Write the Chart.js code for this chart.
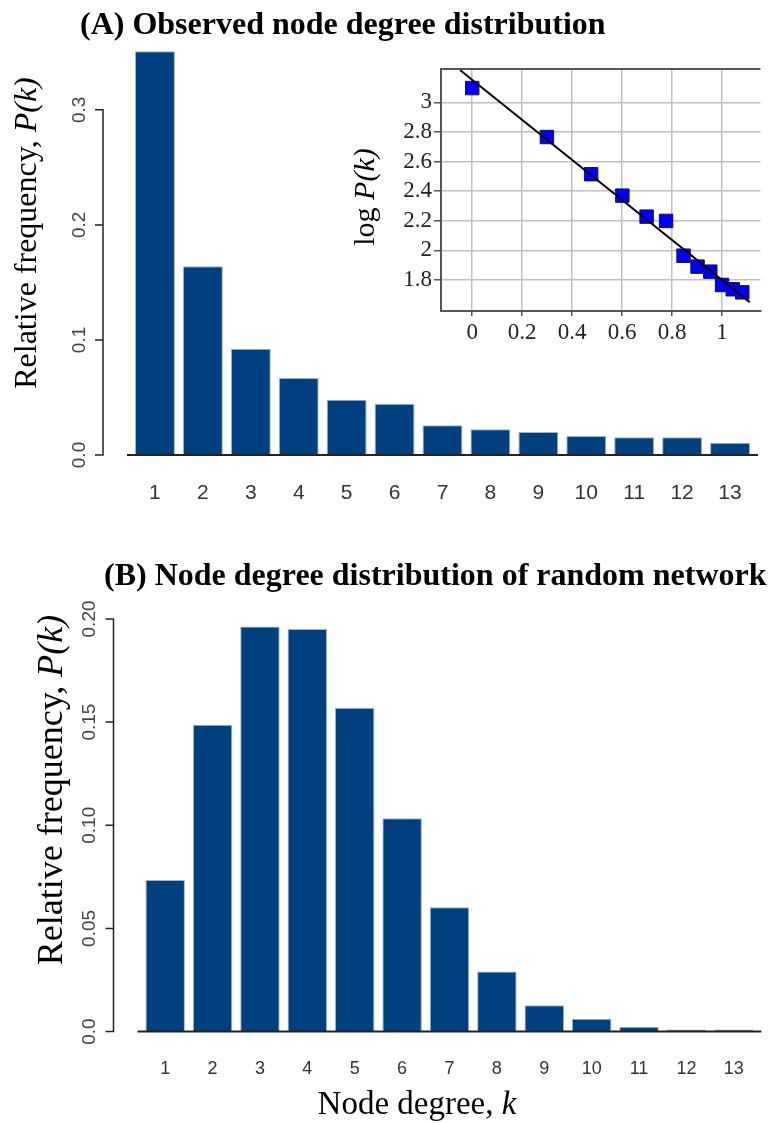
<!DOCTYPE html>
<html>
<head>
<meta charset="utf-8">
<script src="https://cdn.jsdelivr.net/npm/chart.js@4.4.1/dist/chart.umd.min.js"></script>
<style>
  html, body { margin: 0; padding: 0; background: #fff; }
  #page { position: relative; width: 771px; height: 1123px; overflow: hidden; }
  canvas { position: absolute; }
  #chartA { left: 0; top: 0; }
  #chartInset { left: 350px; top: 50px; }
  #chartB { left: 0; top: 520px; }
</style>
</head>
<body>
<div id="page">
  <canvas id="chartA" width="771" height="520"></canvas>
  <canvas id="chartInset" width="421" height="300"></canvas>
  <canvas id="chartB" width="771" height="603"></canvas>
</div>
<script>
// node degrees k
const degrees = ['1', '2', '3', '4', '5', '6', '7', '8', '9', '10', '11', '12', '13'];

// (A) observed relative frequency P(k)
const observedFreq = [0.351, 0.164, 0.0924, 0.067, 0.0481, 0.0446, 0.0258, 0.0223, 0.020, 0.0165, 0.0154, 0.0154, 0.0107];

// (B) random network relative frequency P(k)
const randomFreq = [0.0735, 0.1487, 0.1963, 0.1951, 0.157, 0.1034, 0.0603, 0.0291, 0.0128, 0.0062, 0.0023, 0.001, 0.001];

// inset: log k vs log P(k), and the fitted line
const logK = [0, 0.299, 0.476, 0.601, 0.698, 0.776, 0.846, 0.902, 0.953, 1.0, 1.043, 1.081];
const logP = [3.097, 2.766, 2.515, 2.370, 2.228, 2.199, 1.964, 1.890, 1.856, 1.766, 1.737, 1.716];
const fitX = [-0.048, 1.111];
const fitY = [3.217, 1.649];

// tick values / labels
const aYTicks = [0, 0.1, 0.2, 0.3];
const aYLabels = ['0.0', '0.1', '0.2', '0.3'];
const bYTicks = [0, 0.05, 0.10, 0.15, 0.20];
const bYLabels = ['0.0', '0.05', '0.10', '0.15', '0.20'];
const insetXTicks = [0, 0.2, 0.4, 0.6, 0.8, 1];
const insetXLabels = ['0', '0.2', '0.4', '0.6', '0.8', '1'];
const insetYTicks = [1.8, 2, 2.2, 2.4, 2.6, 2.8, 3];
const insetYLabels = ['1.8', '2', '2.2', '2.4', '2.6', '2.8', '3'];

const BAR_COLOR = '#00407f';
const SERIF = '"Liberation Serif", "Times New Roman", serif';
const SANS = '"Liberation Sans", Arial, sans-serif';

// draw "regular" + "italic" text run, rotated or not, centered at (cx, cy)
function mixedText(ctx, parts, cx, cy, rotate) {
  let total = 0;
  parts.forEach(p => { ctx.font = p.font; p.w = ctx.measureText(p.text).width; total += p.w; });
  ctx.save();
  ctx.translate(cx, cy);
  if (rotate) ctx.rotate(-Math.PI / 2);
  ctx.textBaseline = 'middle';
  ctx.textAlign = 'left';
  ctx.fillStyle = '#000';
  let x = -total / 2;
  parts.forEach(p => { ctx.font = p.font; ctx.fillText(p.text, x, 0); x += p.w; });
  ctx.restore();
}

// R-style axis: y axis line only over tick range, rotated labels, baseline under bars, titles
function rAxisPlugin(o) {
  return {
    id: 'rAxis',
    afterDraw(chart) {
      const ctx = chart.ctx;
      const xs = chart.scales.x, ys = chart.scales.y, area = chart.chartArea;
      const axisX = area.left - 28;
      ctx.save();
      ctx.strokeStyle = '#222';
      ctx.lineWidth = 1.5;
      ctx.beginPath();
      ctx.moveTo(axisX, ys.getPixelForValue(o.ticks[0]));
      ctx.lineTo(axisX, ys.getPixelForValue(o.ticks[o.ticks.length - 1]));
      o.ticks.forEach(v => {
        const py = ys.getPixelForValue(v);
        ctx.moveTo(axisX + 0.75, py);
        ctx.lineTo(axisX - 8, py);
      });
      ctx.stroke();

      ctx.fillStyle = '#444';
      ctx.font = o.tickFont;
      ctx.textAlign = 'center';
      ctx.textBaseline = 'middle';
      o.ticks.forEach((v, i) => {
        ctx.save();
        ctx.translate(axisX - o.labelGap, ys.getPixelForValue(v));
        ctx.rotate(-Math.PI / 2);
        ctx.fillText(o.labels[i], 0, 0);
        ctx.restore();
      });

      // baseline spanning the bar region
      const step = xs.getPixelForValue(1) - xs.getPixelForValue(0);
      const x0 = xs.getPixelForValue(0) - step * 0.583;
      const x1 = xs.getPixelForValue(xs.max) + step * 0.583;
      const by = ys.getPixelForValue(0);
      ctx.strokeStyle = '#222';
      ctx.lineWidth = 2;
      ctx.beginPath();
      ctx.moveTo(x0, by);
      ctx.lineTo(x1, by);
      ctx.stroke();

      // panel title
      ctx.fillStyle = '#000';
      ctx.font = 'bold 32px ' + SERIF;
      ctx.textAlign = 'left';
      ctx.textBaseline = 'alphabetic';
      ctx.fillText(o.title, o.titleX, o.titleY);

      // y axis title
      mixedText(ctx, [
        { text: 'Relative frequency, ', font: o.yTitleSize + 'px ' + SERIF },
        { text: 'P(k)', font: 'italic ' + o.yTitleSize + 'px ' + SERIF }
      ], o.yTitleX, o.yTitleY, true);

      // x axis title
      if (o.xTitle) {
        mixedText(ctx, [
          { text: 'Node degree, ', font: '33px ' + SERIF },
          { text: 'k', font: 'italic 33px ' + SERIF }
        ], o.xTitleX, o.xTitleY, false);
      }
      ctx.restore();
    }
  };
}

function barConfig(values, yMax, pad, xHeight, tickSize, tickPad, axisOpts) {
  return {
    type: 'bar',
    data: {
      labels: degrees,
      datasets: [{
        data: values,
        backgroundColor: BAR_COLOR,
        borderColor: '#9db4d2',
        borderWidth: 1,
        borderSkipped: 'bottom',
        barPercentage: 0.833,
        categoryPercentage: 1
      }]
    },
    options: {
      responsive: false,
      animation: false,
      layout: { padding: pad },
      plugins: { legend: { display: false }, tooltip: { enabled: false } },
      scales: {
        x: {
          grid: { display: false, drawTicks: false },
          border: { display: false },
          ticks: { color: '#333', font: { family: SANS, size: tickSize }, padding: tickPad, autoSkip: false, maxRotation: 0 },
          afterFit: s => { s.height = xHeight; }
        },
        y: { display: false, min: 0, max: yMax }
      }
    },
    plugins: [rAxisPlugin(axisOpts)]
  };
}

new Chart(document.getElementById('chartA'), barConfig(
  observedFreq, 0.352,
  { left: 131, right: 17, top: 50, bottom: 0 }, 65, 21, 26,
  {
    ticks: aYTicks, labels: aYLabels, tickFont: '19px ' + SANS, labelGap: 23,
    title: '(A) Observed node degree distribution', titleX: 80, titleY: 34,
    yTitleSize: 32, yTitleX: 28, yTitleY: 233
  }
));

new Chart(document.getElementById('chartB'), barConfig(
  randomFreq, 0.204,
  { left: 141.5, right: 5, top: 90.7, bottom: 0 }, 91.4, 18, 27,
  {
    ticks: bYTicks, labels: bYLabels, tickFont: '19px ' + SANS, labelGap: 24,
    title: '(B) Node degree distribution of random network', titleX: 104, titleY: 65,
    yTitleSize: 36, yTitleX: 53, yTitleY: 270,
    xTitle: true, xTitleX: 417, xTitleY: 585
  }
));

// inset: log-log scatter with fitted line
const insetFrame = {
  id: 'insetFrame',
  afterDraw(chart) {
    const ctx = chart.ctx, a = chart.chartArea;
    ctx.save();
    ctx.strokeStyle = '#555';
    ctx.lineWidth = 2;
    ctx.beginPath();
    ctx.moveTo(a.left, a.top);
    ctx.lineTo(a.right, a.top);
    ctx.stroke();
    mixedText(ctx, [
      { text: 'log ', font: '30px ' + SERIF },
      { text: 'P(k)', font: 'italic 30px ' + SERIF }
    ], 16, 147, true);
    ctx.restore();
  }
};

new Chart(document.getElementById('chartInset'), {
  type: 'scatter',
  data: {
    datasets: [
      {
        data: fitX.map((x, i) => ({ x: x, y: fitY[i] })),
        showLine: true,
        borderColor: '#000',
        borderWidth: 2,
        pointRadius: 0
      },
      {
        data: logK.map((x, i) => ({ x: x, y: logP[i] })),
        pointStyle: 'rect',
        pointRadius: 9.5,
        backgroundColor: '#0000ff',
        borderColor: '#14143c',
        borderWidth: 1
      }
    ]
  },
  options: {
    responsive: false,
    animation: false,
    layout: { padding: { left: 0, right: 0, top: 19, bottom: 0 } },
    plugins: { legend: { display: false }, tooltip: { enabled: false } },
    scales: {
      x: {
        type: 'linear',
        min: -0.125,
        max: 1.154,
        afterBuildTicks: s => { s.ticks = insetXTicks.map(v => ({ value: v })); },
        afterFit: s => { s.height = 39; },
        grid: { color: '#c0c0c0', lineWidth: 1.5, tickColor: '#555', tickLength: 5 },
        border: { color: '#555', width: 2 },
        ticks: {
          color: '#222', font: { family: SERIF, size: 23 }, padding: 3, autoSkip: false, maxRotation: 0,
          callback: (v, i) => insetXLabels[i]
        }
      },
      y: {
        type: 'linear',
        min: 1.59,
        max: 3.226,
        afterBuildTicks: s => { s.ticks = insetYTicks.map(v => ({ value: v })); },
        afterFit: s => { s.width = 91; },
        grid: { color: '#c0c0c0', lineWidth: 1.5, tickColor: '#555', tickLength: 7 },
        border: { color: '#555', width: 2 },
        ticks: {
          color: '#222', font: { family: SERIF, size: 23 }, padding: 2, autoSkip: false,
          callback: (v, i) => insetYLabels[i]
        }
      }
    }
  },
  plugins: [insetFrame]
});
</script>
</body>
</html>
